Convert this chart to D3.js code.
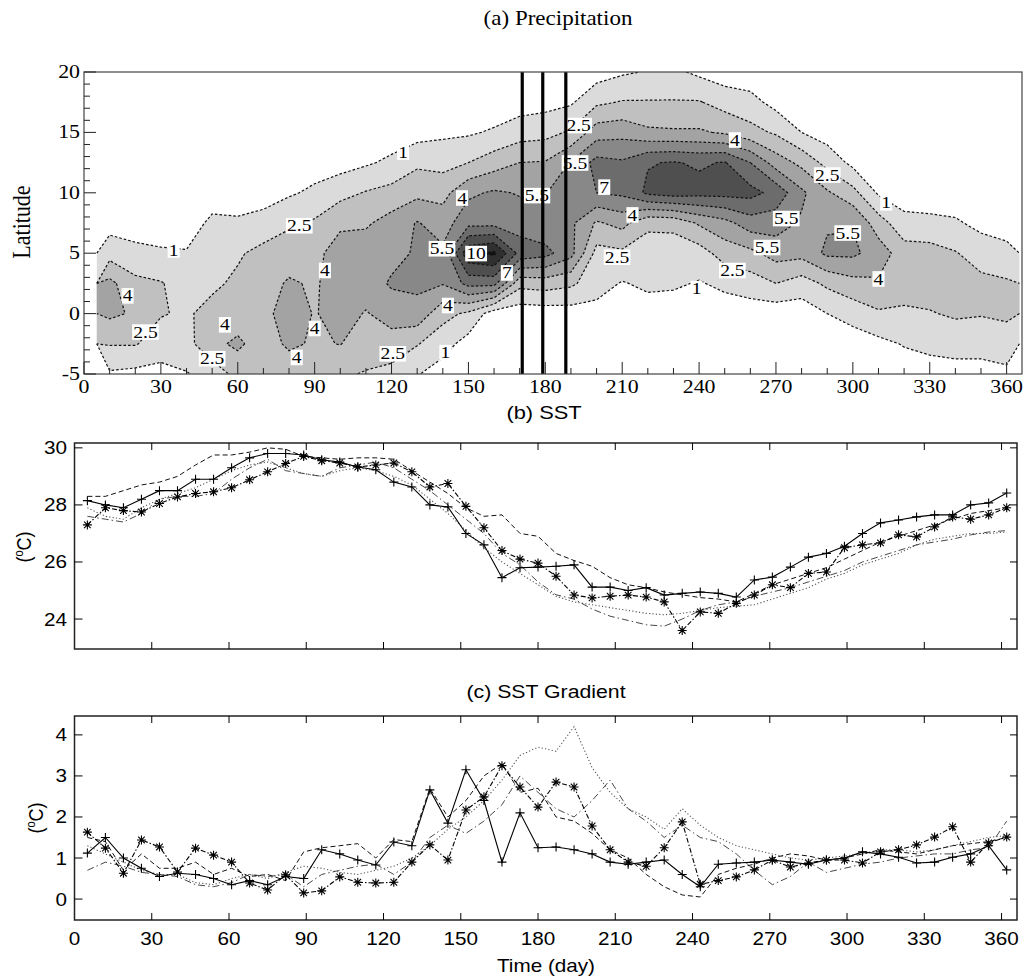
<!DOCTYPE html>
<html><head><meta charset="utf-8">
<script src="https://cdn.jsdelivr.net/npm/d3@7"></script>
<style>body{margin:0;background:#fff}</style>
</head><body>
<svg id="chart" width="1035" height="978"></svg>
<script>
// ---------------- DATA ----------------
const latitudes = [-5, -2.5, 0, 2.5, 5, 7.5, 10, 12.5, 15, 17.5, 20];
const precipDays = [10,20,30,40,50,60,70,80,90,100,110,120,130,140,150,160,170,180,190,200,210,220,230,240,250,260,270,280,290,300,310,320,330,340,350,360];
// one precipitation profile (mm/day) per day, values at the latitudes above
const precipColumns = [
  [0.8,2.6,4.3,4.4,1.9,0.4,0,0,0,0,0],
  [0.6,2.6,3.8,2.9,1.4,0.3,0,0,0,0,0],
  [0.5,1.8,2.6,2.6,1.2,0.2,0,0,0,0,0],
  [0.9,2.0,2.3,1.8,1.1,0.3,0,0,0,0,0],
  [1.6,3.6,3.0,2.2,1.8,1.3,0.3,0,0,0,0],
  [3.0,4.3,3.2,2.8,2.3,1.2,0.3,0,0,0,0],
  [2.8,3.2,3.5,3.3,3.0,1.5,0.4,0,0,0,0],
  [3.0,4.3,4.8,4.2,3.2,2.3,0.8,0.2,0,0,0],
  [2.8,3.8,3.9,3.8,3.7,2.7,1.3,0.3,0,0,0],
  [2.7,4.05,4.6,4.8,4.5,3.8,2.0,0.4,0.1,0,0],
  [2.4,3.2,3.9,4.7,4.8,3.8,2.6,0.8,0.1,0,0],
  [2.0,3.4,4.6,5.7,5.0,4.6,3.0,1.3,0.2,0,0],
  [1.1,2.6,5.0,5.8,5.7,5.6,3.6,2.2,0.4,0,0],
  [0.3,1.6,3.0,5.6,5.8,4.8,3.5,2.0,0.7,0,0],
  [0,0.4,2.2,7.5,11.2,6.5,5.2,2.5,0.8,0,0],
  [0,0,0.2,7.5,11.8,6.5,5.7,3.3,1.2,0,0],
  [0,0,0.1,3.0,8.0,6.2,5.4,4.0,1.8,0.3,0],
  [0,0,0.2,3.2,7.5,5.8,5.4,4.1,2.0,0.5,0],
  [0,0,0.3,2.8,6.0,5.8,6.8,5.6,2.7,0.8,0],
  [0,0,0.5,1.6,2.0,3.8,7.0,7.5,4.8,2.2,0.3],
  [0,0,0.2,0.9,2.2,4.5,7.3,7.2,5.0,2.6,0.8],
  [0,0,0.3,1.3,1.8,2.8,8.8,8.4,4.3,2.6,1.1],
  [0,0,0.3,1.2,1.7,2.9,9.2,8.6,4.2,2.6,1.3],
  [0,0,0.2,0.9,1.8,4.2,9.0,8.3,4.2,2.6,0.7],
  [0,0,0.3,1.3,3.2,5.0,9.0,8.6,3.8,1.9,0.2],
  [0,0,0.2,1.8,3.6,6.3,9.0,7.0,3.0,1.5,0.1],
  [0,0,0.1,2.5,4.6,6.2,8.0,4.8,2.3,0.5,0],
  [0,0,0.2,1.8,4.5,5.3,5.8,3.6,1.0,0,0],
  [0,0.2,1.0,2.8,5.8,5.3,4.2,2.0,0.3,0,0],
  [0,0.2,1.6,3.5,5.8,5.4,3.0,0.6,0,0,0],
  [0,0.6,2.3,3.8,4.8,3.2,0.8,0,0,0,0],
  [0.2,1.1,2.2,3.3,3.2,1.5,0.2,0,0,0,0],
  [0.5,1.3,2.4,3.2,3.1,1.4,0.1,0,0,0,0],
  [0.4,1.6,2.7,3.0,2.6,1.2,0.1,0,0,0,0],
  [0.5,1.5,2.6,2.9,1.8,0.6,0,0,0,0,0],
  [0.7,1.7,2.8,2.7,1.4,0.4,0,0,0,0,0]
];
const precipLevels = [1, 2.5, 4, 5.5, 7, 8.5, 10, 11.5];
const precipFills  = ['#dbdbdb','#c0c0c0','#a3a3a3','#888888','#6c6c6c','#4f4f4f','#303030','#121212'];
// contour labels: [day, latitude, text]
const contourLabels = [
  [35,5.3,'1'],[124.5,13.4,'1'],[141,-3.2,'1'],[239,2.1,'1'],[313,9.2,'1'],
  [84,7.3,'2.5'],[24,-1.5,'2.5'],[50,-3.7,'2.5'],[120.5,-3.3,'2.5'],[193,15.6,'2.5'],[208,4.7,'2.5'],[253,3.6,'2.5'],[290,11.5,'2.5'],
  [17,1.5,'4'],[55,-0.9,'4'],[83,-3.6,'4'],[90,-1.2,'4'],[94,3.6,'4'],[147.5,9.6,'4'],[142,0.7,'4'],[214,8.2,'4'],[254,14.4,'4'],[310,2.9,'4'],
  [139.7,5.4,'5.5'],[176.7,9.8,'5.5'],[191.6,12.5,'5.5'],[274,7.9,'5.5'],[266.5,5.5,'5.5'],[298,6.7,'5.5'],
  [165,3.4,'7'],[203,10.5,'7'],[153,5.0,'10']
];
const markedDays = [171, 179, 188];

const timeDays = [5,12,19,26,33,40,47,54,61,68,75,82,89,96,103,110,117,124,131,138,145,152,159,166,173,180,187,194,201,208,215,222,229,236,243,250,257,264,271,278,285,292,299,306,313,320,327,334,341,348,355,362];
const sstA = [28.15,28.0,27.9,28.2,28.5,28.5,28.9,28.9,29.3,29.65, 29.8,29.8,29.75,29.58,29.5,29.33,29.23,28.8,28.63,28.0, 27.93,27.0,26.6,25.45,25.8,25.82,25.85,25.9,25.12,25.12, 25.0,25.1,24.84,24.9,24.95,24.9,24.77,25.37,25.47,25.82, 26.17,26.3,26.55,27.0,27.37,27.47,27.58,27.65,27.65,28.0, 28.07,28.42];
const sstB = [27.3,27.9,27.8,27.75,28.05,28.28,28.4,28.46,28.6,28.88, 29.16,29.45,29.7,29.55,29.47,29.33,29.4,29.47,29.16,28.63, 28.75,27.95,27.2,26.4,26.1,25.96,25.5,24.84,24.74,24.8, 24.84,24.77,24.6,23.6,24.25,24.2,24.55,24.84,25.2,25.1, 25.6,25.65,26.5,26.6,26.67,26.95,26.88,27.23,27.58,27.5, 27.65,27.9];
const sstC = [28.3,28.3,28.5,28.7,28.8,29.0,29.4,29.75,29.75,29.85, 30.0,29.95,29.7,29.65,29.6,29.65,29.65,29.6,29.2,28.8, 28.4,27.9,27.6,27.65,27.0,26.9,26.3,26.05,25.85,25.45, 25.2,25.1,24.95,24.85,24.75,24.7,24.6,24.9,25.2,25.4, 25.6,25.8,26.1,26.4,26.7,26.9,27.1,27.3,27.5,27.7, 27.8,27.9];
const sstD = [27.6,27.5,27.4,27.7,28.2,28.3,28.3,28.4,28.9,29.3, 29.6,29.2,29.1,29.0,29.3,29.4,29.5,29.3,28.9,28.5, 28.0,27.5,27.0,26.3,25.9,25.3,24.85,24.7,24.35,24.1, 23.95,23.8,23.75,24.0,24.3,24.5,24.6,24.8,24.95,25.1, 25.3,25.5,25.7,26.0,26.2,26.4,26.6,26.7,26.8,26.95, 27.05,27.1];
const sstE = [27.9,27.6,27.5,27.9,28.2,28.4,28.6,28.9,29.2,29.4, 29.5,29.3,29.1,29.0,29.2,29.3,29.2,29.0,28.7,28.2, 27.7,27.1,26.5,26.0,25.6,25.2,24.8,24.6,24.5,24.4, 24.3,24.2,24.15,24.2,24.3,24.4,24.45,24.5,24.7,24.9, 25.1,25.4,25.6,25.9,26.1,26.3,26.6,26.8,26.9,27.0, 27.0,27.05];
const gradA = [1.12,1.5,1.0,0.75,0.55,0.63,0.6,0.5,0.35,0.45, 0.35,0.55,0.5,1.2,1.1,0.95,0.83,1.39,1.3,2.66, 1.85,3.15,2.4,0.9,2.1,1.25,1.27,1.2,1.1,0.9, 0.85,0.9,0.95,0.6,0.3,0.85,0.88,0.9,0.95,0.9, 0.85,0.95,1.0,1.15,1.1,1.02,0.88,0.9,1.02,1.1, 1.3,0.71];
const gradB = [1.63,1.24,0.63,1.44,1.27,0.66,1.24,1.07,0.9,0.39, 0.22,0.59,0.15,0.2,0.54,0.41,0.39,0.41,0.9,1.32, 0.95,2.17,2.49,3.25,2.73,2.24,2.85,2.73,1.78,1.2, 0.9,0.8,1.25,1.88,0.36,0.45,0.54,0.71,0.95,0.78, 0.88,0.95,0.95,0.88,1.15,1.2,1.32,1.51,1.76,0.9, 1.37,1.51];
const gradC = [1.5,1.4,0.7,1.1,0.75,0.75,0.9,0.6,0.75,0.55, 0.6,0.45,1.15,1.25,1.3,1.35,1.0,1.45,1.4,2.7, 2.0,2.4,3.0,3.3,2.6,2.7,2.0,1.9,1.6,1.2, 1.0,0.6,0.3,0.1,0.05,0.6,0.75,0.85,1.0,1.1, 1.05,0.95,1.0,1.1,1.2,1.15,1.1,1.2,1.3,1.35, 1.4,1.5];
const gradD = [0.7,0.9,0.8,0.65,0.6,0.55,0.35,0.3,0.4,0.6, 0.55,0.6,0.3,0.6,0.7,0.8,0.85,0.6,0.9,1.5, 1.8,1.6,1.9,2.3,3.0,2.6,2.2,2.0,2.4,2.9, 2.2,1.9,1.5,1.8,1.5,1.4,1.1,0.7,0.35,0.55, 0.9,0.65,0.75,0.85,0.9,1.0,1.05,1.1,1.1,1.2, 1.25,1.9];
const gradE = [1.3,1.1,0.9,0.7,0.6,0.6,0.4,0.35,0.5,0.6, 0.5,0.65,0.8,0.75,0.65,0.6,0.7,0.8,1.0,1.3, 1.7,2.0,2.4,2.9,3.5,3.7,3.6,4.2,3.2,2.6, 2.2,2.0,1.7,2.2,1.8,1.5,1.3,1.2,1.1,1.0, 0.95,1.0,1.05,1.1,1.2,1.2,1.15,1.2,1.3,1.4, 1.5,1.55];

const latTicks = [-5, 0, 5, 10, 15, 20];
const dayTicks = [0,30,60,90,120,150,180,210,240,270,300,330,360];
const sstTicks = [24, 26, 28, 30];
const gradTicks = [0, 1, 2, 3, 4];

// ---------------- DRAW ----------------
const svg = d3.select('#chart');
const SERIF = "'Liberation Serif','Times New Roman',serif";
const SANS = "'Liberation Sans',Arial,Helvetica,sans-serif";
const SX = 1.15;
const defs = svg.append('defs');

function txt(g, x, y, s, o = {}) {
  const t = g.append('text')
    .attr('transform', `translate(${x},${y}) rotate(${o.rotate || 0}) scale(${o.rotate ? 1 : SX},${o.rotate ? SX : 1})`)
    .attr('font-family', o.family || SANS).attr('font-size', o.size || 18)
    .attr('text-anchor', o.anchor || 'middle').attr('fill', '#000');
  t.text(s);
  return t;
}

// ===== Panel (a) =====
const xA = d3.scaleLinear([0, 366], [84, 1022]);
const yA = d3.scaleLinear([-5, 20], [374, 72]);
defs.append('clipPath').attr('id', 'clipA').append('rect')
  .attr('x', xA(0)).attr('y', yA(20)).attr('width', xA(366) - xA(0)).attr('height', yA(-5) - yA(20));

const nx = precipDays.length, ny = latitudes.length;
const grid = new Array(nx * ny);
for (let j = 0; j < ny; j++) for (let i = 0; i < nx; i++) grid[j * nx + i] = precipColumns[i][j];
const dStep = precipDays[1] - precipDays[0], lStep = latitudes[1] - latitudes[0];
const gx = c => xA(precipDays[0] + (c - 0.5) * dStep);
const gy = r => yA(latitudes[0] + (r - 0.5) * lStep);
const contours = d3.contours().size([nx, ny]).thresholds(precipLevels)(grid);
const proj = d3.geoTransform({ point(x, y) { this.stream.point(gx(x), gy(y)); } });
const path = d3.geoPath(proj);

const gA = svg.append('g').attr('clip-path', 'url(#clipA)');
gA.selectAll('path.fill').data(contours).join('path')
  .attr('class', 'fill').attr('d', path)
  .attr('fill', d => precipFills[precipLevels.indexOf(d.value)]).attr('stroke', 'none');

// contour lines (skip grid-boundary segments)
function onEdge(p, q) {
  return (p[0] === 0 && q[0] === 0) || (p[0] === nx && q[0] === nx) ||
         (p[1] === 0 && q[1] === 0) || (p[1] === ny && q[1] === ny);
}
contours.forEach(c => {
  let dstr = '';
  c.coordinates.forEach(poly => poly.forEach(ring => {
    let open = false;
    for (let k = 0; k < ring.length - 1; k++) {
      const p = ring[k], q = ring[k + 1];
      if (onEdge(p, q)) { open = false; continue; }
      if (!open) { dstr += `M${gx(p[0]).toFixed(2)},${gy(p[1]).toFixed(2)}`; open = true; }
      dstr += `L${gx(q[0]).toFixed(2)},${gy(q[1]).toFixed(2)}`;
    }
  }));
  gA.append('path').attr('d', dstr).attr('fill', 'none')
    .attr('stroke', '#111').attr('stroke-width', 1.2).attr('stroke-dasharray', '2.6,2');
});

// contour labels
contourLabels.forEach(([d, l, s]) => {
  const g = gA.append('g').attr('transform', `translate(${xA(d)},${yA(l)}) scale(${SX},1)`);
  const t = g.append('text').attr('font-family', SERIF).attr('font-size', 17)
    .attr('text-anchor', 'middle').attr('dy', '0.35em').text(s);
  const b = t.node().getBBox();
  g.insert('rect', 'text').attr('x', b.x - 1).attr('y', b.y + 1.5).attr('width', b.width + 2).attr('height', b.height - 3).attr('fill', '#fff');
});

// vertical marker lines
svg.selectAll('line.mark').data(markedDays).join('line').attr('class', 'mark')
  .attr('x1', d => xA(d)).attr('x2', d => xA(d)).attr('y1', yA(20)).attr('y2', yA(-5))
  .attr('stroke', '#000').attr('stroke-width', 3.2);

// axes panel a
const axA = svg.append('g').attr('stroke', '#222').attr('stroke-width', 1);
axA.append('rect').attr('x', xA(0)).attr('y', yA(20)).attr('width', xA(366) - xA(0)).attr('height', yA(-5) - yA(20))
  .attr('fill', 'none').attr('stroke', '#444').attr('stroke-width', 1.2);
d3.range(-5, 21, 1).forEach(v => {
  const major = latTicks.includes(v);
  axA.append('line').attr('x1', xA(0)).attr('x2', xA(0) + (major ? 12 : 6)).attr('y1', yA(v)).attr('y2', yA(v));
});
d3.range(0, 366, 10).forEach(v => {
  const major = dayTicks.includes(v);
  axA.append('line').attr('x1', xA(v)).attr('x2', xA(v)).attr('y1', yA(-5)).attr('y2', yA(-5) - (major ? 12 : 6));
});
const labA = svg.append('g');
latTicks.forEach(v => txt(labA, 80, yA(v) + 6, String(v), { family: SERIF, size: 19, anchor: 'end' }));
dayTicks.forEach(v => txt(labA, xA(v), 393, String(v), { family: SERIF, size: 19 }));
txt(labA, 558, 25, '(a) Precipitation', { family: SERIF, size: 20 });
txt(labA, 30, 222, 'Latitude', { family: SERIF, size: 22, rotate: -90 });

// ===== Panels (b), (c) =====
const xB = d3.scaleLinear([0, 366], [74.5, 1017]);
const yB = d3.scaleLinear([22.95, 30.17], [649, 443]);
const yC = d3.scaleLinear([-0.51, 4.46], [920, 716]);

const styles = [
  { dash: null, color: '#000', w: 1.1, marker: 'plus' },
  { dash: '5,2,1.5,2', color: '#000', w: 1.1, marker: 'star' },
  { dash: '5,3', color: '#111', w: 1.0, marker: null },
  { dash: '7,3,1.5,3', color: '#333', w: 0.9, marker: null },
  { dash: '1.2,2.2', color: '#555', w: 1.1, marker: null }
];
const markerPaths = {
  plus: 'M-4.5,0H4.5M0,-4.5V4.5',
  star: 'M-4.5,0H4.5M0,-4.5V4.5M-3.3,-3.3L3.3,3.3M-3.3,3.3L3.3,-3.3'
};

function panel(yS, series, ticksY, top, bottom, clipId) {
  defs.append('clipPath').attr('id', clipId).append('rect')
    .attr('x', xB(0)).attr('y', top).attr('width', xB(366) - xB(0)).attr('height', bottom - top);
  const g = svg.append('g').attr('clip-path', `url(#${clipId})`);
  const line = d3.line().x((d, i) => xB(timeDays[i])).y(d => yS(d));
  [4, 3, 2, 0, 1].forEach(si => {
    const st = styles[si], vals = series[si];
    g.append('path').attr('d', line(vals)).attr('fill', 'none').attr('stroke', st.color)
      .attr('stroke-width', st.w).attr('stroke-dasharray', st.dash);
    if (st.marker) {
      g.selectAll(null).data(vals).join('path')
        .attr('transform', (d, i) => `translate(${xB(timeDays[i])},${yS(d)})`)
        .attr('d', markerPaths[st.marker]).attr('stroke', '#000').attr('stroke-width', 1.1).attr('fill', 'none');
    }
  });
  const ax = svg.append('g').attr('stroke', '#000').attr('stroke-width', 1);
  ax.append('rect').attr('x', xB(0)).attr('y', top).attr('width', xB(366) - xB(0)).attr('height', bottom - top)
    .attr('fill', 'none').attr('stroke', '#222').attr('stroke-width', 1.5);
  ticksY.forEach(v => {
    ax.append('line').attr('x1', xB(0)).attr('x2', xB(0) + 8).attr('y1', yS(v)).attr('y2', yS(v));
    ax.append('line').attr('x1', xB(366)).attr('x2', xB(366) - 7).attr('y1', yS(v)).attr('y2', yS(v));
  });
  dayTicks.slice(1).forEach(v => {
    ax.append('line').attr('x1', xB(v)).attr('x2', xB(v)).attr('y1', top).attr('y2', top + 7);
    ax.append('line').attr('x1', xB(v)).attr('x2', xB(v)).attr('y1', bottom).attr('y2', bottom - 7);
  });
  const lab = svg.append('g');
  ticksY.forEach(v => txt(lab, 67, yS(v) + 6.5, String(v), { size: 18, anchor: 'end' }));
  return lab;
}

const labB = panel(yB, [sstA, sstB, sstC, sstD, sstE], sstTicks, 443, 649, 'clipB');
txt(labB, 544, 419, '(b) SST', { size: 19 });
const tb = labB.append('text').attr('transform', `translate(31,547) rotate(-90) scale(1,${SX})`)
  .attr('font-family', SANS).attr('font-size', 18).attr('text-anchor', 'middle');
tb.append('tspan').text('(');
tb.append('tspan').attr('font-size', 11).attr('dy', -7).text('o');
tb.append('tspan').attr('dy', 7).text('C)');

const labC = panel(yC, [gradA, gradB, gradC, gradD, gradE], gradTicks, 716, 920, 'clipC');
txt(labC, 546, 698, '(c) SST Gradient', { size: 18.5 });
dayTicks.forEach(v => txt(labC, xB(v), 945, String(v), { size: 18 }));
txt(labC, 546, 972, 'Time (day)', { size: 18 });
const tc = labC.append('text').attr('transform', `translate(43,818) rotate(-90) scale(1,${SX})`)
  .attr('font-family', SANS).attr('font-size', 18).attr('text-anchor', 'middle');
tc.append('tspan').text('(');
tc.append('tspan').attr('font-size', 11).attr('dy', -7).text('o');
tc.append('tspan').attr('dy', 7).text('C)');
</script>
</body></html>
